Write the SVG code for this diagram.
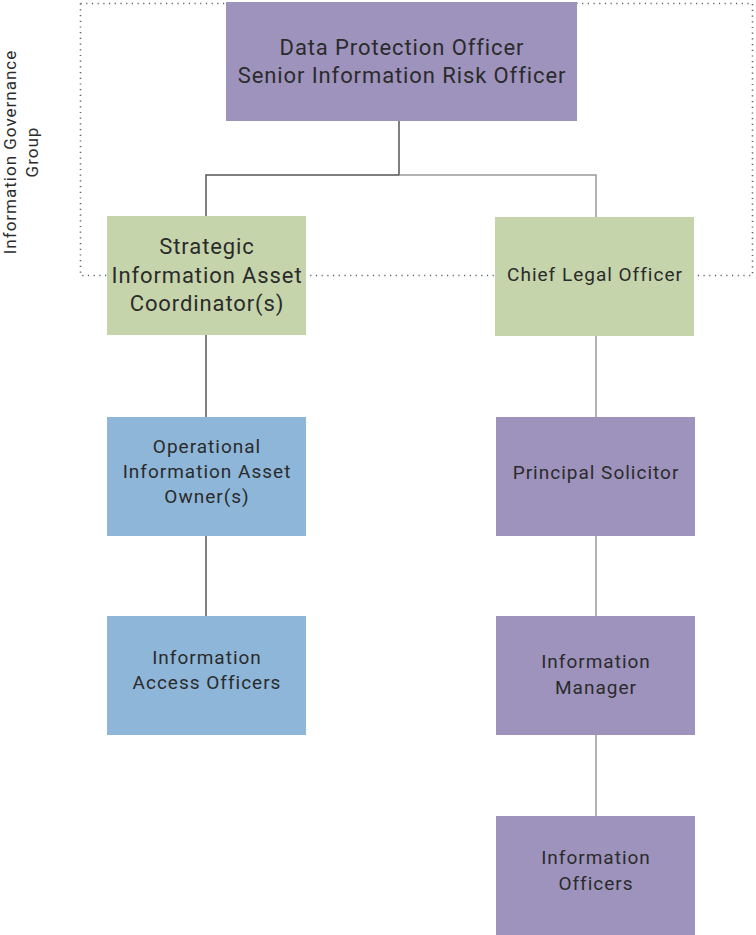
<svg xmlns="http://www.w3.org/2000/svg" width="756" height="935" viewBox="0 0 756 935">
<style>
text{font-family:Roboto,"Liberation Sans",sans-serif;fill:#2b2b2b;text-anchor:middle}
.p{fill:#9e93bd}.g{fill:#c5d4aa}.b{fill:#8db6d9}
.t1{font-size:22px;letter-spacing:0.9px}.t2{font-size:19px;letter-spacing:1px}
.dk{stroke:#555;stroke-width:1.5;fill:none}
.lt{stroke:#999;stroke-width:1.5;fill:none}
</style>
<rect x="80.5" y="3.5" width="672" height="272" fill="none" stroke="#5a6470" stroke-width="1.6" stroke-dasharray="1.2 4.5"/>
<g id="label"><text transform="translate(16,152) rotate(-90)" font-size="17" letter-spacing="1">Information Governance</text><text transform="translate(38,152) rotate(-90)" font-size="17" letter-spacing="1">Group</text></g>
<g id="connectors">
<path class="dk" d="M399 121V175H206V216M206 335V417M206 536V616"/>
<path class="lt" d="M399 175H596V217M596 336V417M596 536V616M596 735V816"/>
</g>
<g id="dpo"><rect class="p" x="226" y="2" width="351" height="119"/><text class="t1" x="402" y="55">Data Protection Officer</text><text class="t1" x="402" y="83">Senior Information Risk Officer</text></g>
<g id="siac"><rect class="g" x="107" y="216" width="199" height="119"/><text class="t1" x="207" y="254">Strategic</text><text class="t1" x="207" y="283">Information Asset</text><text class="t1" x="207" y="311">Coordinator(s)</text></g>
<g id="clo"><rect class="g" x="495" y="217" width="199" height="119"/><text class="t2" x="595" y="281">Chief Legal Officer</text></g>
<g id="oiao"><rect class="b" x="107" y="417" width="199" height="119"/><text class="t2" x="207" y="453">Operational</text><text class="t2" x="207" y="478">Information Asset</text><text class="t2" x="207" y="503">Owner(s)</text></g>
<g id="ps"><rect class="p" x="496" y="417" width="199" height="119"/><text class="t2" x="596" y="479">Principal Solicitor</text></g>
<g id="iao"><rect class="b" x="107" y="616" width="199" height="119"/><text class="t2" x="207" y="664">Information</text><text class="t2" x="207" y="689">Access Officers</text></g>
<g id="im"><rect class="p" x="496" y="616" width="199" height="119"/><text class="t2" x="596" y="668">Information</text><text class="t2" x="596" y="694">Manager</text></g>
<g id="io"><rect class="p" x="496" y="816" width="199" height="119"/><text class="t2" x="596" y="864">Information</text><text class="t2" x="596" y="890">Officers</text></g>
</svg>
